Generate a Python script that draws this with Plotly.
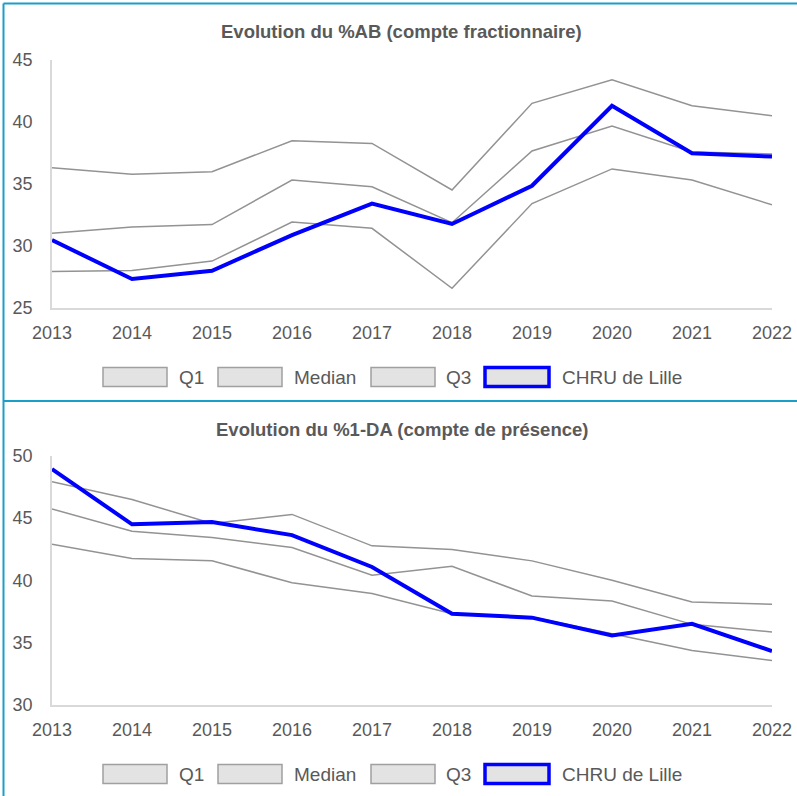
import plotly.graph_objects as go

# ---------------- data ----------------
years = [2013, 2014, 2015, 2016, 2017, 2018, 2019, 2020, 2021, 2022]
series_names = ["Q1", "Median", "Q3", "CHRU de Lille"]

title_ab = "Evolution du %AB (compte fractionnaire)"
ab_q1 = [27.9, 28.0, 28.75, 31.9, 31.4, 26.55, 33.4, 36.2, 35.3, 33.3]
ab_median = [31.0, 31.5, 31.7, 35.3, 34.76, 31.85, 37.65, 39.67, 37.56, 37.4]
ab_q3 = [36.3, 35.76, 35.97, 38.48, 38.26, 34.5, 41.5, 43.4, 41.3, 40.5]
ab_chru = [30.45, 27.3, 27.97, 30.85, 33.4, 31.75, 34.84, 41.3, 37.46, 37.2]
ab_yticks = [25, 30, 35, 40, 45]

title_da = "Evolution du %1-DA (compte de présence)"
da_q1 = [42.9, 41.75, 41.56, 39.8, 38.93, 37.3, 37.04, 35.7, 34.35, 33.55]
da_median = [45.73, 43.95, 43.44, 42.63, 40.4, 41.13, 38.73, 38.33, 36.45, 35.83]
da_q3 = [47.93, 46.5, 44.57, 45.3, 42.77, 42.47, 41.56, 40.0, 38.25, 38.06]
da_chru = [48.95, 44.5, 44.68, 43.63, 41.07, 37.3, 36.99, 35.56, 36.5, 34.3]
da_yticks = [30, 35, 40, 45, 50]

# ---------------- layout helpers ----------------
W, H = 797, 796
def px(x):
    return x / W
def py(y):
    return 1 - y / H

GREY = "#939393"
BLUE = "#0000ff"
TEXT = "#595959"
FONT = "Liberation Sans, Arial, sans-serif"
BORDER = "#1a9fc9"

fig = go.Figure()

panels = [
    dict(xa="x", ya="y", data=[ab_q1, ab_median, ab_q3, ab_chru], title=title_ab,
         ticks=ab_yticks, ydom=(60, 307.5), title_y=32, leg_y=377),
    dict(xa="x2", ya="y2", data=[da_q1, da_median, da_q3, da_chru], title=title_da,
         ticks=da_yticks, ydom=(456, 704.5), title_y=429, leg_y=774),
]

shapes = []
annotations = []
leg_box_x = [103, 218, 371, 485]
leg_txt_x = [177, 292, 444, 560]

for p in panels:
    for i, (name, vals) in enumerate(zip(series_names, p["data"])):
        is_main = i == 3
        fig.add_trace(go.Scatter(
            x=years, y=vals, name=name, mode="lines",
            xaxis=p["xa"], yaxis=p["ya"], showlegend=False,
            line=dict(color=BLUE if is_main else GREY, width=4 if is_main else 1.5),
            hoverinfo="x+y+name",
        ))
        # legend entries drawn as boxes + labels
        y0 = p["leg_y"] - 9.5
        y1 = p["leg_y"] + 9.5
        shapes.append(dict(
            type="rect", xref="paper", yref="paper",
            x0=px(leg_box_x[i]), x1=px(leg_box_x[i] + 64),
            y0=py(y1), y1=py(y0),
            fillcolor="#e3e3e3",
            line=dict(color=BLUE if is_main else "#a0a0a0", width=3.5 if is_main else 1.5),
        ))
        annotations.append(dict(
            text=name, xref="paper", yref="paper", x=px(leg_txt_x[i]), y=py(p["leg_y"]),
            xanchor="left", yanchor="middle", showarrow=False,
            font=dict(family=FONT, size=19, color=TEXT),
        ))
    annotations.append(dict(
        text="<b>" + p["title"] + "</b>", xref="paper", yref="paper",
        x=px(402), y=py(p["title_y"]), xanchor="center", yanchor="middle",
        showarrow=False, font=dict(family=FONT, size=18.5, color=TEXT),
    ))

# panel frames
shapes.append(dict(type="line", xref="paper", yref="paper", x0=px(3.5), x1=1, y0=py(3.5), y1=py(3.5),
                   line=dict(color=BORDER, width=2)))
shapes.append(dict(type="line", xref="paper", yref="paper", x0=px(3.5), x1=1, y0=py(401), y1=py(401),
                   line=dict(color=BORDER, width=2)))
shapes.append(dict(type="line", xref="paper", yref="paper", x0=px(3.5), x1=px(3.5), y0=0, y1=py(3.5),
                   line=dict(color=BORDER, width=2)))

axis_common = dict(showgrid=False, zeroline=False, showline=True, linecolor="#d9d9d9",
                   linewidth=1.5, ticks="", automargin=False,
                   tickfont=dict(family=FONT, size=18, color=TEXT))

xdom = [px(52), px(772)]
layout = dict(
    template="none",
    width=W, height=H, margin=dict(l=0, r=0, t=0, b=0, pad=0), autosize=False,
    paper_bgcolor="white", plot_bgcolor="white", showlegend=False,
    shapes=shapes, annotations=annotations,
)
for p, (xk, yk) in zip(panels, [("xaxis", "yaxis"), ("xaxis2", "yaxis2")]):
    ya = p["ya"]
    xa = p["xa"]
    layout[xk] = dict(axis_common, domain=xdom, range=[2013, 2022], tickmode="array",
                      tickvals=years, ticktext=[str(y) for y in years], anchor=ya,
                      ticklabelstandoff=8)
    layout[yk] = dict(axis_common, domain=[py(p["ydom"][1]), py(p["ydom"][0])],
                      range=[p["ticks"][0], p["ticks"][-1]], tickmode="array",
                      tickvals=p["ticks"], anchor=xa, ticklabelstandoff=14)

fig.update_layout(**layout)
fig.write_html("out.html", config={"displayModeBar": False},
               post_script="document.body.style.margin='0';document.body.style.overflow='hidden';")
